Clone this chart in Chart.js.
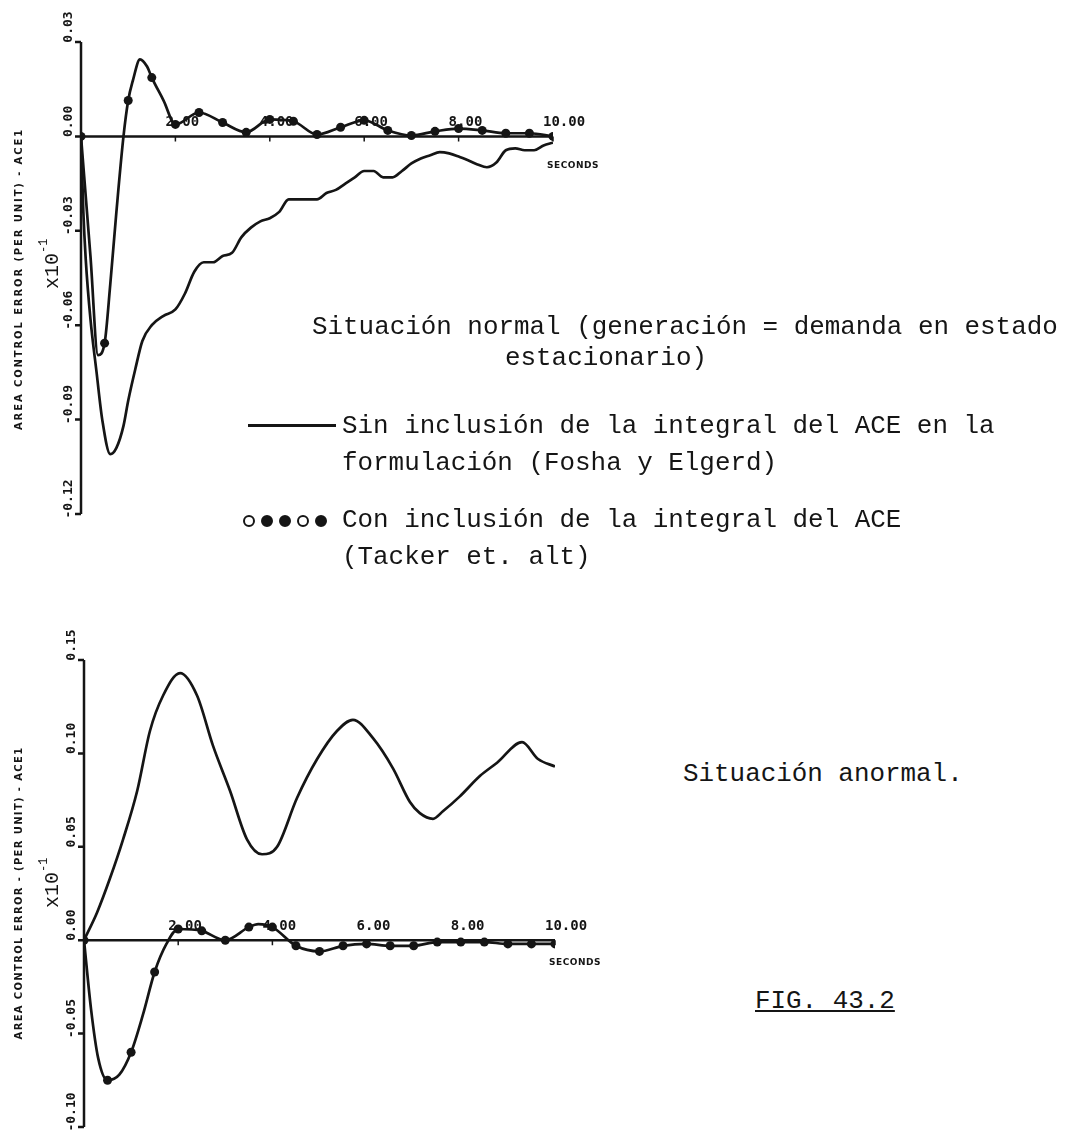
<!DOCTYPE html>
<html>
<head>
<meta charset="utf-8">
<script src="https://cdn.jsdelivr.net/npm/chart.js@4.4.0/dist/chart.umd.min.js"></script>
<style>
  body { margin: 0; background: #fff; }
  #hoja { position: relative; width: 1066px; height: 1138px; overflow: hidden; background: #fff; }
  canvas { position: absolute; left: 0; }
  .txt { position: absolute; font-family: "Liberation Mono", monospace; font-size: 25.9px; line-height: 25px; white-space: pre; color: #151515; }
  .raya { position: absolute; height: 0; border-top: 3px solid #151515; }
  .bola { display: inline-block; width: 8px; height: 8px; border: 2.5px solid #151515; border-radius: 50%; margin-right: 6px; vertical-align: middle; }
  .llena { background: #151515; }
</style>
</head>
<body>
<div id="hoja">
  <canvas id="grafNormal" width="620" height="560" style="top:0"></canvas>
  <canvas id="grafAnormal" width="620" height="538" style="top:600px"></canvas>

  <div class="txt" style="left:312px;top:315px">Situación normal (generación = demanda en estado</div>
  <div class="txt" style="left:505px;top:346px">estacionario)</div>

  <div class="raya" style="left:248px;top:424px;width:88px"></div>
  <div class="txt" style="left:342px;top:414px">Sin inclusión de la integral del ACE en la</div>
  <div class="txt" style="left:342px;top:451px">formulación (Fosha y Elgerd)</div>

  <div style="position:absolute;left:243px;top:511px;white-space:nowrap"><span class="bola"></span><span class="bola llena"></span><span class="bola llena"></span><span class="bola"></span><span class="bola llena"></span></div>
  <div class="txt" style="left:342px;top:508px">Con inclusión de la integral del ACE</div>
  <div class="txt" style="left:342px;top:545px">(Tacker et. alt)</div>

  <div class="txt" style="left:683px;top:762px">Situación anormal.</div>
  <div class="txt" style="left:755px;top:989px;text-decoration:underline">FIG. 43.2</div>
</div>

<script>
// segundos marcados sobre el eje horizontal
var segundos = [2, 4, 6, 8, 10];

// situación normal: escala vertical
var ticksNormal = [0.03, 0, -0.03, -0.06, -0.09, -0.12];
// sin inclusión de la integral del ACE (Fosha y Elgerd)
var normalSinT = [0, 0.05, 0.1, 0.2, 0.33, 0.45, 0.62, 0.75, 0.9, 1.0, 1.15, 1.3, 1.5, 1.75, 2.0, 2.2, 2.4, 2.6, 2.8, 3.0,
    3.2, 3.4, 3.6, 3.8, 4.0, 4.2, 4.4, 4.6, 4.8, 5.0, 5.2, 5.4, 5.6, 5.8, 6.0, 6.2, 6.4, 6.6, 6.8, 7.0,
    7.2, 7.4, 7.6, 7.8, 8.0, 8.2, 8.4, 8.6, 8.8, 9.0, 9.2, 9.4, 9.6, 9.8, 10];
var normalSinV = [0, -0.024, -0.039, -0.058, -0.075, -0.090, -0.101, -0.099, -0.092, -0.084, -0.074, -0.065, -0.060, -0.057, -0.055, -0.050, -0.043, -0.040, -0.040, -0.038,
    -0.037, -0.032, -0.029, -0.027, -0.026, -0.024, -0.020, -0.020, -0.020, -0.020, -0.018, -0.017, -0.015, -0.013, -0.011, -0.011, -0.013, -0.013, -0.011, -0.0086,
    -0.007, -0.006, -0.005, -0.0054, -0.0064, -0.0076, -0.0089, -0.0098, -0.0083, -0.0044, -0.0038, -0.0044, -0.0044, -0.0029, -0.002];
// con inclusión de la integral del ACE (Tacker et. alt)
var normalConT = [0, 0.2, 0.36, 0.5, 0.62, 0.75, 0.9, 1.0, 1.1, 1.25, 1.4, 1.5, 1.75, 2.0, 2.5, 3.0, 3.5, 4.0, 4.5, 5.0,
    5.5, 6.0, 6.5, 7.0, 7.5, 8.0, 8.5, 9.0, 9.5, 10];
var normalConV = [0, -0.038, -0.0695, -0.0657, -0.047, -0.024, 0.0, 0.0114, 0.0178, 0.0245, 0.0222, 0.0187, 0.0114, 0.0038, 0.0076, 0.0044, 0.0013, 0.0054, 0.0048, 0.0006,
    0.0029, 0.0051, 0.0019, 0.0003, 0.0016, 0.0025, 0.0019, 0.001, 0.001, 0.0];

// situación anormal: escala vertical
var ticksAnormal = [0.15, 0.10, 0.05, 0, -0.05, -0.10];
var anormalSinT = [0, 0.28, 0.55, 0.83, 1.13, 1.4, 1.68, 2.04, 2.4, 2.74, 3.1, 3.46, 3.78, 4.1, 4.52, 4.95, 5.37, 5.71, 6.14, 6.56,
    6.92, 7.13, 7.41, 7.62, 7.98, 8.41, 8.77, 9.3, 9.64, 10];
var anormalSinV = [0, 0.015, 0.033, 0.054, 0.080, 0.112, 0.131, 0.143, 0.131, 0.104, 0.080, 0.054, 0.046, 0.050, 0.076, 0.097, 0.112, 0.118, 0.108, 0.092,
    0.074, 0.068, 0.065, 0.069, 0.077, 0.088, 0.095, 0.106, 0.097, 0.093];
var anormalConT = [0, 0.15, 0.3, 0.5, 0.75, 1.0, 1.25, 1.5, 1.75, 2.0, 2.5, 3.0, 3.5, 3.7, 4.0, 4.5, 5.0, 5.5, 6.0, 6.5,
    7.0, 7.5, 8.0, 8.5, 9.0, 9.5, 10];
var anormalConV = [0, -0.037, -0.063, -0.075, -0.072, -0.060, -0.040, -0.017, -0.002, 0.006, 0.005, 0.000, 0.007, 0.0086, 0.007, -0.003, -0.006, -0.003, -0.002, -0.003,
    -0.003, -0.001, -0.001, -0.001, -0.002, -0.002, -0.002];

var TINTA = '#151515';

function puntos(ts, vs) {
    return ts.map(function (t, i) { return { x: t, y: vs[i] }; });
}

function etiqueta(v) {
    return (Math.abs(v) < 1e-9 ? 0 : v).toFixed(2);
}

// ejes dibujados a mano: eje vertical a la izquierda y eje de tiempo en el cero
var ejes = {
    id: 'ejes',
    beforeDatasetsDraw: function (chart, args, o) {
        var ctx = chart.ctx, xs = chart.scales.x, ys = chart.scales.y, area = chart.chartArea;
        var y0 = ys.getPixelForValue(0);
        var xFin = xs.getPixelForValue(10);
        ctx.save();
        ctx.strokeStyle = TINTA;
        ctx.fillStyle = TINTA;
        ctx.lineWidth = 2.5;
        ctx.beginPath();
        ctx.moveTo(area.left, ys.getPixelForValue(o.ticksY[0]));
        ctx.lineTo(area.left, ys.getPixelForValue(o.ticksY[o.ticksY.length - 1]));
        o.ticksY.forEach(function (v) {
            var p = ys.getPixelForValue(v);
            ctx.moveTo(area.left - 6, p);
            ctx.lineTo(area.left, p);
        });
        ctx.moveTo(area.left, y0);
        ctx.lineTo(xFin, y0);
        ctx.stroke();
        ctx.lineWidth = 1.5;
        ctx.beginPath();
        segundos.forEach(function (t) {
            var p = xs.getPixelForValue(t);
            ctx.moveTo(p, y0);
            ctx.lineTo(p, y0 + 5);
        });
        ctx.stroke();

        // etiquetas verticales giradas
        ctx.font = 'bold 13px "DejaVu Sans Mono"';
        ctx.textAlign = 'center';
        ctx.textBaseline = 'middle';
        o.ticksY.forEach(function (v) {
            var p = ys.getPixelForValue(v);
            ctx.save();
            ctx.translate(area.left - 12, p - 15);
            ctx.rotate(-Math.PI / 2);
            ctx.fillText(etiqueta(v), 0, 0);
            ctx.restore();
        });

        // etiquetas de segundos encima del eje
        ctx.font = 'bold 14px "DejaVu Sans Mono"';
        ctx.textAlign = 'left';
        segundos.forEach(function (t) {
            ctx.fillText(t.toFixed(2), xs.getPixelForValue(t) - 10, y0 - 14);
        });
        ctx.font = 'bold 9px "DejaVu Sans"';
        ctx.letterSpacing = '0.5px';
        ctx.fillText('SECONDS', xFin - 6, y0 + o.segDy);

        // titulo del eje
        ctx.font = 'bold 10px "DejaVu Sans"';
        ctx.letterSpacing = '0px';
        var w = ctx.measureText(o.titulo).width;
        ctx.letterSpacing = ((o.largoTitulo - w) / o.titulo.length).toFixed(2) + 'px';
        ctx.save();
        ctx.translate(19, o.tituloY);
        ctx.rotate(-Math.PI / 2);
        ctx.textAlign = 'center';
        ctx.fillText(o.titulo, 0, 0);
        ctx.restore();
        ctx.letterSpacing = '0px';

        // factor de escala x10^-1
        ctx.save();
        ctx.translate(53, o.factorY);
        ctx.rotate(-Math.PI / 2);
        ctx.textAlign = 'left';
        ctx.font = '20px "Liberation Mono"';
        ctx.fillText('x10', -26, 0);
        ctx.font = '12px "Liberation Mono"';
        ctx.fillText('-1', 10, -9);
        ctx.restore();
        ctx.restore();
    }
};

function grafico(idCanvas, sinT, sinV, conT, conV, ticksY, relleno, extra) {
    var ctx = document.getElementById(idCanvas).getContext('2d');
    return new Chart(ctx, {
        type: 'line',
        data: {
            datasets: [{
                label: 'Sin inclusión de la integral del ACE',
                data: puntos(sinT, sinV),
                borderColor: TINTA,
                borderWidth: 2.7,
                pointRadius: 0,
                cubicInterpolationMode: 'monotone'
            }, {
                label: 'Con inclusión de la integral del ACE',
                data: puntos(conT, conV),
                borderColor: TINTA,
                borderWidth: 2.7,
                pointBackgroundColor: TINTA,
                pointBorderWidth: 0,
                pointRadius: function (c) {
                    var t = c.raw ? c.raw.x * 2 : 0.5;
                    return Math.abs(t - Math.round(t)) < 1e-6 ? 4.5 : 0;
                },
                cubicInterpolationMode: 'monotone'
            }]
        },
        options: {
            responsive: false,
            animation: false,
            layout: { padding: relleno },
            scales: {
                x: { type: 'linear', min: 0, max: 10, display: false },
                y: { type: 'linear', min: ticksY[ticksY.length - 1], max: ticksY[0], display: false }
            },
            plugins: {
                legend: { display: false },
                tooltip: { enabled: false },
                ejes: Object.assign({ ticksY: ticksY }, extra)
            }
        },
        plugins: [ejes]
    });
}

grafico('grafNormal', normalSinT, normalSinV, normalConT, normalConV, ticksNormal,
    { left: 81, top: 42, right: 67, bottom: 46 },
    { titulo: 'AREA CONTROL ERROR (PER UNIT) - ACE1', largoTitulo: 302, tituloY: 279, factorY: 263, segDy: 29 });

grafico('grafAnormal', anormalSinT, anormalSinV, anormalConT, anormalConV, ticksAnormal,
    { left: 84, top: 60, right: 65, bottom: 11 },
    { titulo: 'AREA CONTROL ERROR - (PER UNIT) - ACE1', largoTitulo: 293, tituloY: 293, factorY: 282, segDy: 22 });
</script>
</body>
</html>
